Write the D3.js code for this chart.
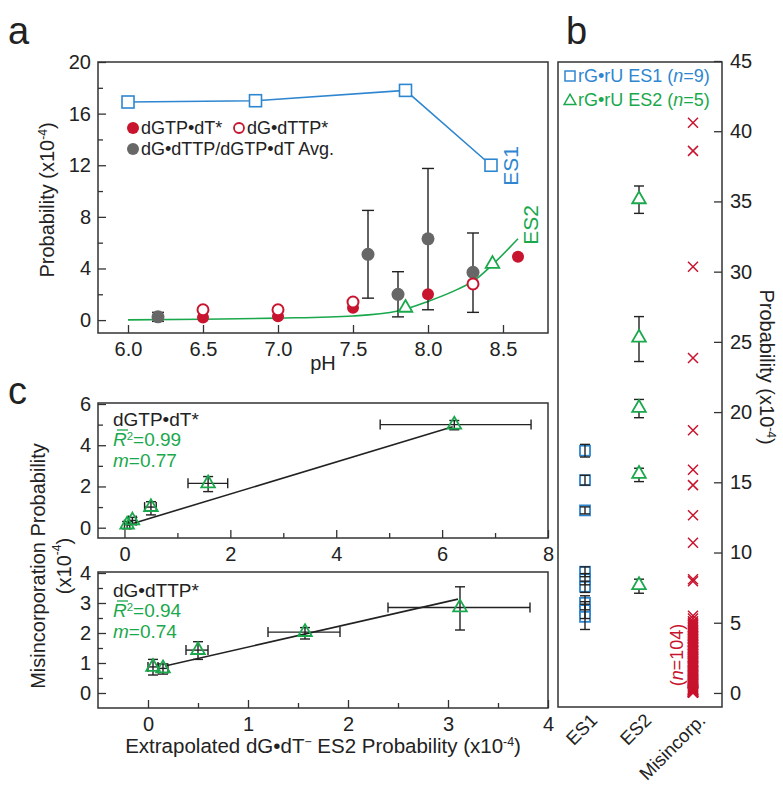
<!DOCTYPE html>
<html>
<head>
<meta charset="utf-8">
<script src="https://cdn.jsdelivr.net/npm/d3@7"></script>
<style>
body { margin: 0; background: #fff; }
svg text { font-family: "Liberation Sans", Arial, Helvetica, sans-serif; }
</style>
</head>
<body>
<div id="chart"></div>
<script>
// ---- panel a : probability vs pH ----
const es1PH = [6.0, 6.85, 7.85, 8.42];
const es1Prob = [16.9, 17.0, 17.8, 12.0];
const es2FitPH = [6.0, 6.5, 7.0, 7.5, 7.8, 8.0, 8.2, 8.3, 8.43, 8.6];
const es2FitProb = [0.02, 0.06, 0.15, 0.32, 0.7, 1.45, 2.4, 3.0, 4.3, 6.3];
const es2PH = [7.85, 8.43];
const es2Prob = [0.95, 4.35];
const dgtpPH = [6.5, 7.0, 7.5, 8.0, 8.6];
const dgtpProb = [0.2, 0.3, 0.95, 2.0, 4.9];
const dttpPH = [6.5, 7.0, 7.5, 8.3];
const dttpProb = [0.8, 0.8, 1.4, 2.8];
const avgPH = [6.2, 7.6, 7.8, 8.0, 8.3];
const avgProb = [0.25, 5.1, 2.0, 6.3, 3.7];
const avgLo = [-0.1, 1.7, 0.25, 0.8, 0.6];
const avgHi = [0.6, 8.5, 3.75, 11.75, 6.75];
const phTicks = [6.0, 6.5, 7.0, 7.5, 8.0, 8.5];
const probTicksA = [0, 4, 8, 12, 16, 20];

// ---- panel c : misincorporation vs extrapolated ES2 ----
const topX = [0.05, 0.15, 0.5, 1.58, 6.23];
const topY = [0.15, 0.35, 1.0, 2.15, 5.0];
const topXLo = [0.0, 0.08, 0.38, 1.2, 4.83];
const topXHi = [0.1, 0.22, 0.6, 1.95, 7.68];
const topYLo = [-0.05, 0.15, 0.62, 1.75, 4.75];
const topYHi = [0.3, 0.5, 1.26, 2.48, 5.2];
const topFitX = [0.05, 6.2];
const topFitY = [0.12, 4.9];

const botX = [0.05, 0.15, 0.5, 1.57, 3.12];
const botY = [0.87, 0.82, 1.43, 2.03, 2.85];
const botXLo = [0.0, 0.1, 0.38, 1.2, 2.4];
const botXHi = [0.1, 0.2, 0.6, 1.92, 3.82];
const botYLo = [0.6, 0.63, 1.12, 1.8, 2.1];
const botYHi = [1.12, 0.97, 1.71, 2.18, 3.54];
const botFitX = [0.17, 3.1];
const botFitY = [0.9, 3.13];

// ---- panel b : distributions ----
const cats = ['ES1', 'ES2', 'Misincorp.'];
const es1B = [17.25, 15.15, 13.0, 8.63, 8.1, 7.56, 6.42, 5.9, 5.42];
const es1BErr = [0.45, 0.35, 0.25, 0.35, 0.4, 0.4, 0.5, 0.6, 0.9];
const es2B = [35.15, 25.3, 20.3, 15.6, 7.68];
const es2BLo = [34.15, 23.6, 19.6, 15.05, 7.1];
const es2BHi = [36.1, 26.8, 20.9, 16.0, 8.1];
const misB = [40.6, 38.6, 30.35, 23.85, 18.7, 15.9, 14.8, 12.65, 10.7, 8.1, 7.95,
  5.5, 5.3, 5.1, 5.0, 4.9, 4.8, 4.7, 4.6, 4.5, 4.4, 4.3, 4.2, 4.1, 4.05, 4.0, 3.9, 3.85, 3.8, 3.7, 3.65,
  3.6, 3.5, 3.45, 3.4, 3.3, 3.25, 3.2, 3.1, 3.05, 3.0, 2.95, 2.9, 2.8, 2.75, 2.7, 2.6, 2.55, 2.5, 2.45, 2.4,
  2.3, 2.25, 2.2, 2.15, 2.1, 2.0, 1.95, 1.9, 1.85, 1.8, 1.7, 1.65, 1.6, 1.55, 1.5, 1.45, 1.4, 1.35, 1.3, 1.25,
  1.2, 1.15, 1.1, 1.05, 1.0, 0.95, 0.9, 0.85, 0.8, 0.75, 0.7, 0.65, 0.6, 0.55, 0.5, 0.45, 0.4, 0.35, 0.3, 0.28,
  0.25, 0.22, 0.2, 0.18, 0.15, 0.12, 0.1, 0.08, 0.06, 0.05, 0.04, 0.03, 0.02];
const probTicksB = [0, 5, 10, 15, 20, 25, 30, 35, 40, 45];

const width = 783, height = 787;
const blue = '#2f86d0', green = '#1aa84c', red = '#c8142e', gray = '#676767', ink = '#222';

var svg = d3.select('#chart').append('svg')
  .attr('width', width)
  .attr('height', height)
  .style('fill', ink);

const tri = d3.symbol().type(d3.symbolTriangle).size(80)();
const triSmall = d3.symbol().type(d3.symbolTriangle).size(60)();
const intFmt = d3.format('d');

function frame(x0, y0, x1, y1) {
  svg.append('rect')
    .attr('x', x0).attr('y', y0)
    .attr('width', x1 - x0).attr('height', y1 - y0)
    .style('fill', 'none').attr('stroke', '#333').attr('stroke-width', 1.5);
}

function styleAxis(sel, size) {
  sel.select('.domain').remove();
  sel.selectAll('line').attr('stroke', '#333').attr('stroke-width', 1.3);
  sel.selectAll('text').style('font-size', size + 'px').style('fill', ink);
}

// superscript that does not move the rest of the line
function sup(t, s) {
  t.append('tspan').attr('baseline-shift', 'super').style('font-size', '0.6em').text(s);
}

function vErr(g, x, lo, hi, cap) {
  g.append('line').attr('x1', x).attr('x2', x).attr('y1', lo).attr('y2', hi);
  g.append('line').attr('x1', x - cap).attr('x2', x + cap).attr('y1', lo).attr('y2', lo);
  g.append('line').attr('x1', x - cap).attr('x2', x + cap).attr('y1', hi).attr('y2', hi);
}
function hErr(g, y, lo, hi, cap) {
  g.append('line').attr('y1', y).attr('y2', y).attr('x1', lo).attr('x2', hi);
  g.append('line').attr('y1', y - cap).attr('y2', y + cap).attr('x1', lo).attr('x2', lo);
  g.append('line').attr('y1', y - cap).attr('y2', y + cap).attr('x1', hi).attr('x2', hi);
}

// ================= panel a =================
const xA = d3.scaleLinear().domain([5.8, 8.8]).range([98, 548]);
const yA = d3.scaleLinear().domain([-1, 20]).range([333, 62]);

svg.append('g').attr('transform', 'translate(0,333)')
  .call(d3.axisBottom(xA).tickValues(phTicks).tickFormat(d3.format('.1f')).tickSize(-8).tickPadding(9))
  .call(styleAxis, 20);
svg.append('g').attr('transform', 'translate(98,0)')
  .call(d3.axisLeft(yA).tickValues(probTicksA).tickFormat(intFmt).tickSize(-8).tickPadding(7))
  .call(styleAxis, 20);
svg.append('g').attr('transform', 'translate(98,0)')
  .call(d3.axisLeft(yA).tickValues(probTicksA.slice(0, 5).map(d => d + 2)).tickFormat('').tickSize(-5))
  .call(styleAxis, 20);
frame(98, 62, 548, 333);

var gA = svg.append('g');
gA.append('path')
  .datum(es1PH.map((d, i) => [d, es1Prob[i]]))
  .attr('d', d3.line().x(d => xA(d[0])).y(d => yA(d[1])))
  .style('fill', 'none').attr('stroke', blue).attr('stroke-width', 1.6);
gA.selectAll('rect.es1').data(es1PH).enter().append('rect')
  .attr('class', 'es1')
  .attr('x', d => xA(d) - 6).attr('width', 12).attr('height', 12)
  .attr('y', (d, i) => yA(es1Prob[i]) - 6)
  .style('fill', '#fff').attr('stroke', blue).attr('stroke-width', 1.6);

gA.append('path')
  .datum(es2FitPH.map((d, i) => [d, es2FitProb[i]]))
  .attr('d', d3.line().curve(d3.curveMonotoneX).x(d => xA(d[0])).y(d => yA(d[1])))
  .style('fill', 'none').attr('stroke', green).attr('stroke-width', 1.6);

var errA = gA.append('g').attr('stroke', ink).attr('stroke-width', 1.4);
avgPH.forEach((d, i) => vErr(errA, xA(d), yA(avgLo[i]), yA(avgHi[i]), 6));

gA.selectAll('circle.avg').data(avgPH).enter().append('circle')
  .attr('cx', d => xA(d)).attr('cy', (d, i) => yA(avgProb[i])).attr('r', 6.5)
  .style('fill', gray);
gA.selectAll('circle.dgtp').data(dgtpPH).enter().append('circle')
  .attr('cx', d => xA(d)).attr('cy', (d, i) => yA(dgtpProb[i])).attr('r', 6)
  .style('fill', red);
gA.selectAll('circle.dttp').data(dttpPH).enter().append('circle')
  .attr('cx', d => xA(d)).attr('cy', (d, i) => yA(dttpProb[i])).attr('r', 5.5)
  .style('fill', '#fff').attr('stroke', red).attr('stroke-width', 2);
gA.selectAll('path.es2').data(es2PH).enter().append('path')
  .attr('d', tri)
  .attr('transform', (d, i) => `translate(${xA(d)},${yA(es2Prob[i])})`)
  .style('fill', '#fff').attr('stroke', green).attr('stroke-width', 1.8);

// legend a
var legA = svg.append('g').style('font-size', '18px');
legA.append('circle').attr('cx', 133).attr('cy', 128).attr('r', 6).style('fill', red);
legA.append('text').attr('x', 141).attr('y', 134).text('dGTP•dT*');
legA.append('circle').attr('cx', 239).attr('cy', 128).attr('r', 5).style('fill', 'none')
  .attr('stroke', red).attr('stroke-width', 1.8);
legA.append('text').attr('x', 247).attr('y', 134).text('dG•dTTP*');
legA.append('circle').attr('cx', 133).attr('cy', 149).attr('r', 6).style('fill', gray);
legA.append('text').attr('x', 141).attr('y', 155).text('dG•dTTP/dGTP•dT Avg.');

svg.append('text').attr('transform', 'translate(518,166) rotate(-90)')
  .attr('text-anchor', 'middle').style('font-size', '21px').style('fill', blue).text('ES1');
svg.append('text').attr('transform', 'translate(538,225) rotate(-90)')
  .attr('text-anchor', 'middle').style('font-size', '21px').style('fill', green).text('ES2');

var yLabA = svg.append('text').attr('transform', 'translate(54,200) rotate(-90)')
  .attr('text-anchor', 'middle').style('font-size', '20px');
yLabA.append('tspan').text('Probability (x10');
sup(yLabA, '-4');
yLabA.append('tspan').text(')');

svg.append('text').attr('x', 323).attr('y', 370).attr('text-anchor', 'middle')
  .style('font-size', '20px').text('pH');

// ================= panel c =================
function scatterPanel(xS, yS, xs, ys, xLo, xHi, yLo, yHi, fitX, fitY) {
  var g = svg.append('g');
  g.append('line')
    .attr('x1', xS(fitX[0])).attr('y1', yS(fitY[0]))
    .attr('x2', xS(fitX[1])).attr('y2', yS(fitY[1]))
    .attr('stroke', ink).attr('stroke-width', 1.6);
  var e = g.append('g').attr('stroke', ink).attr('stroke-width', 1.4);
  xs.forEach((d, i) => {
    hErr(e, yS(ys[i]), xS(xLo[i]), xS(xHi[i]), 5);
    vErr(e, xS(d), yS(yLo[i]), yS(yHi[i]), 5);
  });
  g.selectAll('path.t').data(xs).enter().append('path')
    .attr('d', tri)
    .attr('transform', (d, i) => `translate(${xS(d)},${yS(ys[i])})`)
    .style('fill', 'none').attr('stroke', green).attr('stroke-width', 1.8);
}

const xCT = d3.scaleLinear().domain([-0.5, 8]).range([98, 548]);
const yCT = d3.scaleLinear().domain([-0.5, 6]).range([538, 404]);
svg.append('g').attr('transform', 'translate(0,538)')
  .call(d3.axisBottom(xCT).tickValues([0, 2, 4, 6, 8]).tickFormat(intFmt).tickSize(-8).tickPadding(9))
  .call(styleAxis, 20);
svg.append('g').attr('transform', 'translate(0,538)')
  .call(d3.axisBottom(xCT).tickValues([1, 3, 5, 7]).tickFormat('').tickSize(-5))
  .call(styleAxis, 20);
svg.append('g').attr('transform', 'translate(98,0)')
  .call(d3.axisLeft(yCT).tickValues([0, 2, 4, 6]).tickFormat(intFmt).tickSize(-8).tickPadding(7))
  .call(styleAxis, 20);
svg.append('g').attr('transform', 'translate(98,0)')
  .call(d3.axisLeft(yCT).tickValues([1, 3, 5]).tickFormat('').tickSize(-5))
  .call(styleAxis, 20);
frame(98, 403, 548, 538);
scatterPanel(xCT, yCT, topX, topY, topXLo, topXHi, topYLo, topYHi, topFitX, topFitY);

const xCB = d3.scaleLinear().domain([-0.5, 4]).range([98, 548]);
const yCB = d3.scaleLinear().domain([-0.5, 4]).range([708, 573]);
svg.append('g').attr('transform', 'translate(0,708)')
  .call(d3.axisBottom(xCB).tickValues([0, 1, 2, 3, 4]).tickFormat(intFmt).tickSize(-8).tickPadding(9))
  .call(styleAxis, 20);
svg.append('g').attr('transform', 'translate(0,708)')
  .call(d3.axisBottom(xCB).tickValues([0.5, 1.5, 2.5, 3.5]).tickFormat('').tickSize(-5))
  .call(styleAxis, 20);
svg.append('g').attr('transform', 'translate(98,0)')
  .call(d3.axisLeft(yCB).tickValues([0, 1, 2, 3, 4]).tickFormat(intFmt).tickSize(-8).tickPadding(7))
  .call(styleAxis, 20);
svg.append('g').attr('transform', 'translate(98,0)')
  .call(d3.axisLeft(yCB).tickValues([0.5, 1.5, 2.5, 3.5]).tickFormat('').tickSize(-5))
  .call(styleAxis, 20);
frame(98, 572, 548, 708);
scatterPanel(xCB, yCB, botX, botY, botXLo, botXHi, botYLo, botYHi, botFitX, botFitY);

function fitLabels(y0, name, r2, m) {
  var g = svg.append('g').style('font-size', '19px');
  g.append('text').attr('x', 113).attr('y', y0).text(name);
  var t = g.append('text').attr('x', 113).attr('y', y0 + 20).style('fill', green);
  t.append('tspan').style('font-style', 'italic').text('R');
  sup(t, '2');
  t.append('tspan').text('=' + r2);
  // bar over the R
  g.append('line').attr('x1', 117).attr('x2', 128)
    .attr('y1', y0 + 4).attr('y2', y0 + 4)
    .attr('stroke', green).attr('stroke-width', 1.3);
  var t2 = g.append('text').attr('x', 113).attr('y', y0 + 41).style('fill', green);
  t2.append('tspan').style('font-style', 'italic').text('m');
  t2.append('tspan').text('=' + m);
}
fitLabels(426, 'dGTP•dT*', '0.99', '0.77');
fitLabels(597, 'dG•dTTP*', '0.94', '0.74');

svg.append('text').attr('transform', 'translate(38,566) rotate(-90)')
  .attr('text-anchor', 'middle').attr('dominant-baseline', 'central')
  .style('font-size', '20px').text('Misincorporation Probability');
var yLabC = svg.append('text').attr('transform', 'translate(64,566) rotate(-90)')
  .attr('text-anchor', 'middle').attr('dominant-baseline', 'central').style('font-size', '20px');
yLabC.append('tspan').text('(x10');
sup(yLabC, '-4');
yLabC.append('tspan').text(')');

var xLabC = svg.append('text').attr('x', 323).attr('y', 753)
  .attr('text-anchor', 'middle').style('font-size', '20.5px');
xLabC.append('tspan').text('Extrapolated dG•dT');
sup(xLabC, '−');
xLabC.append('tspan').text(' ES2 Probability (x10');
sup(xLabC, '-4');
xLabC.append('tspan').text(')');

// ================= panel b =================
const xB = d3.scalePoint().domain(cats).range([585, 693]);
const yB = d3.scaleLinear().domain([-1, 45]).range([707, 61]);

svg.append('g').attr('transform', 'translate(722,0)')
  .call(d3.axisRight(yB).tickValues(probTicksB).tickSize(-8).tickPadding(8))
  .call(styleAxis, 20);
frame(558, 62, 722, 707);

var gB = svg.append('g');
gB.selectAll('rect.b1').data(es1B).enter().append('rect')
  .attr('x', xB('ES1') - 5).attr('width', 10).attr('height', 10)
  .attr('y', d => yB(d) - 5)
  .style('fill', '#fff').attr('stroke', blue).attr('stroke-width', 1.8);
var errB = gB.append('g').attr('stroke', ink).attr('stroke-width', 1.4);
es1B.forEach((d, i) => vErr(errB, xB('ES1'), yB(d - es1BErr[i]), yB(d + es1BErr[i]), 5));
es2B.forEach((d, i) => vErr(errB, xB('ES2'), yB(es2BLo[i]), yB(es2BHi[i]), 5));
gB.selectAll('path.b2').data(es2B).enter().append('path')
  .attr('d', tri)
  .attr('transform', d => `translate(${xB('ES2')},${yB(d)})`)
  .style('fill', '#fff').attr('stroke', green).attr('stroke-width', 1.8);
gB.selectAll('path.bx').data(misB).enter().append('path')
  .attr('d', 'M-5,-5L5,5M5,-5L-5,5')
  .attr('transform', d => `translate(${xB('Misincorp.')},${yB(d)})`)
  .style('fill', 'none').attr('stroke', red).attr('stroke-width', 1.5);

var nLab = svg.append('text').attr('transform', 'translate(683,655) rotate(-90)')
  .attr('text-anchor', 'middle').style('font-size', '18px').style('fill', red);
nLab.append('tspan').text('(');
nLab.append('tspan').style('font-style', 'italic').text('n');
nLab.append('tspan').text('=104)');

// legend b
svg.append('rect').attr('x', 565).attr('y', 71).attr('width', 10).attr('height', 10)
  .style('fill', 'none').attr('stroke', blue).attr('stroke-width', 1.5);
var lb1 = svg.append('text').attr('x', 578).attr('y', 82).style('font-size', '18px').style('fill', blue);
lb1.append('tspan').text('rG•rU ES1 (');
lb1.append('tspan').style('font-style', 'italic').text('n');
lb1.append('tspan').text('=9)');
svg.append('path').attr('d', triSmall).attr('transform', 'translate(570,101)')
  .style('fill', 'none').attr('stroke', green).attr('stroke-width', 1.5);
var lb2 = svg.append('text').attr('x', 578).attr('y', 106).style('font-size', '18px').style('fill', green);
lb2.append('tspan').text('rG•rU ES2 (');
lb2.append('tspan').style('font-style', 'italic').text('n');
lb2.append('tspan').text('=5)');

svg.selectAll('text.cat').data(cats).enter().append('text')
  .attr('transform', d => `translate(${xB(d) + 9},${717}) rotate(-45)`)
  .attr('text-anchor', 'end').attr('dominant-baseline', 'central')
  .style('font-size', '18.5px').text(d => d);

var yLabB = svg.append('text').attr('transform', 'translate(760,367) rotate(90)')
  .attr('text-anchor', 'middle').style('font-size', '20px');
yLabB.append('tspan').text('Probability (x10');
sup(yLabB, '-4');
yLabB.append('tspan').text(')');

// panel letters
svg.append('text').attr('x', 8).attr('y', 44).style('font-size', '38px').text('a');
svg.append('text').attr('x', 566).attr('y', 44).style('font-size', '38px').text('b');
svg.append('text').attr('x', 8).attr('y', 404).style('font-size', '38px').text('c');
</script>
</body>
</html>
